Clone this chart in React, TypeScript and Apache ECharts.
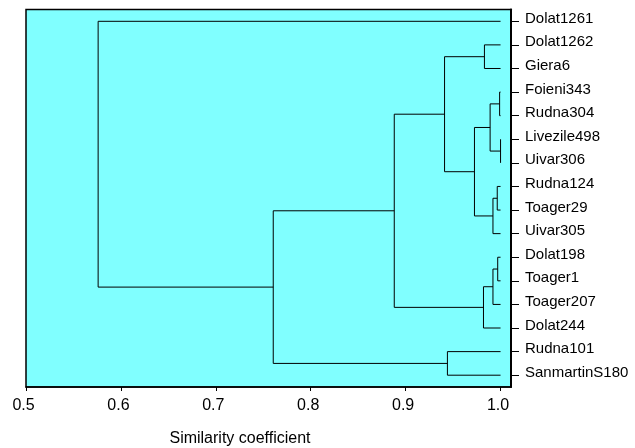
import React, { useEffect, useRef } from "react";
import * as echarts from "echarts";

// Leaves, top to bottom
const leaves = [
  "Dolat1261", "Dolat1262", "Giera6", "Foieni343", "Rudna304", "Livezile498",
  "Uivar306", "Rudna124", "Toager29", "Uivar305", "Dolat198", "Toager1",
  "Toager207", "Dolat244", "Rudna101", "SanmartinS180",
];
// Merge steps: node 16 + k is formed by mergeLeft[k] and mergeRight[k] at similarity mergeHeight[k]
const mergeLeft = [1, 3, 5, 17, 7, 20, 19, 16, 10, 24, 25, 23, 14, 27, 0];
const mergeRight = [2, 4, 6, 18, 8, 9, 21, 22, 11, 12, 13, 26, 15, 28, 29];
const mergeHeight = [0.983, 0.999, 1.0, 0.989, 0.9965, 0.992, 0.9725, 0.941, 0.997, 0.992, 0.982, 0.888, 0.944, 0.7605, 0.576];
const leafSimilarity = 1.0;
const xTicks = [0.5, 0.6, 0.7, 0.8, 0.9, 1.0];
const xTitle = "Similarity coefficient";

const FONT = "'Liberation Sans', Arial, sans-serif";

function buildSegments() {
  const nx: number[] = leaves.map(() => leafSimilarity);
  const ny: number[] = leaves.map((_, i) => i);
  const segs: { coords: number[][] }[] = [];
  for (let k = 0; k < mergeLeft.length; k++) {
    const a = mergeLeft[k];
    const b = mergeRight[k];
    const h = mergeHeight[k];
    segs.push({
      coords: [
        [nx[a], ny[a]],
        [h, ny[a]],
        [h, ny[b]],
        [nx[b], ny[b]],
      ],
    });
    nx.push(h);
    ny.push((ny[a] + ny[b]) / 2);
  }
  return segs;
}

export default function App() {
  const ref = useRef<HTMLDivElement>(null);
  useEffect(() => {
    if (!ref.current) return;
    const chart = echarts.init(ref.current, null, { renderer: "svg" });
    chart.setOption({
      animation: false,
      grid: {
        left: 26,
        top: 9.5,
        right: 124,
        bottom: 61,
        show: true,
        backgroundColor: "#80FFFF",
        borderColor: "#000",
        borderWidth: 1.5,
      },
      xAxis: {
        type: "value",
        min: 0.5,
        max: 1.011,
        interval: 0.1,
        axisLine: { show: true, onZero: false, lineStyle: { color: "#000", width: 1.5 } },
        axisTick: { show: true, length: 4, lineStyle: { color: "#000" }, customValues: xTicks },
        axisLabel: {
          color: "#000",
          fontFamily: FONT,
          fontSize: 16,
          margin: 9,
          padding: [0, 5, 0, 0],
          customValues: xTicks,
          formatter: (v: number) => v.toFixed(1),
        },
        splitLine: { show: false },
      },
      yAxis: [
        {
          type: "value",
          min: -0.5,
          max: leaves.length - 0.5,
          inverse: true,
          show: false,
        },
        {
          type: "category",
          data: leaves,
          inverse: true,
          position: "right",
          boundaryGap: true,
          axisLine: { show: true, onZero: false, lineStyle: { color: "#000", width: 2 } },
          axisTick: { show: true, alignWithLabel: true, length: 8, lineStyle: { color: "#000" } },
          axisLabel: {
            color: "#000",
            fontFamily: FONT,
            fontSize: 15,
            margin: 14,
            verticalAlign: "bottom",
            lineHeight: 8,
            interval: 0,
          },
          splitLine: { show: false },
        },
      ],
      graphic: [
        {
          type: "text",
          x: 240,
          y: 437,
          style: {
            text: xTitle,
            fill: "#000",
            font: `16px ${FONT}`,
            textAlign: "center",
            textVerticalAlign: "middle",
          },
        },
      ],
      series: [
        {
          type: "lines",
          coordinateSystem: "cartesian2d",
          xAxisIndex: 0,
          yAxisIndex: 0,
          polyline: true,
          lineStyle: { color: "#000", width: 1, opacity: 1 },
          data: buildSegments(),
        },
      ],
    });
    return () => chart.dispose();
  }, []);
  return (
    <div
      ref={ref}
      style={{ position: "fixed", left: 0, top: 0, width: 635, height: 448 }}
    />
  );
}
